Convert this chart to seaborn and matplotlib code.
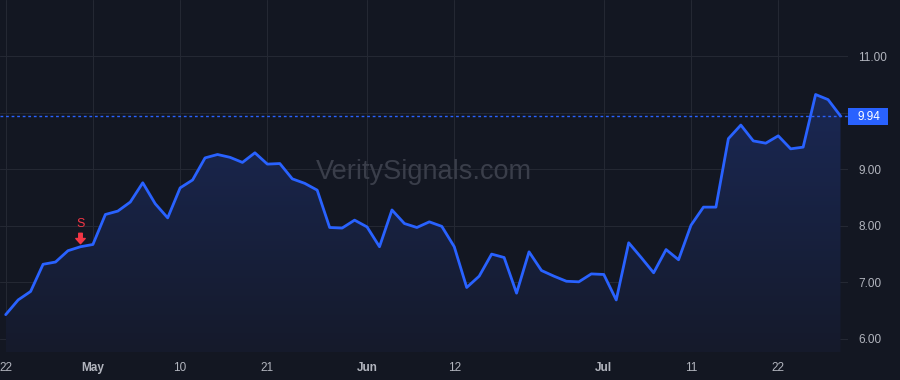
import matplotlib
matplotlib.use("Agg")
import matplotlib.pyplot as plt
import matplotlib.transforms as mtransforms
from matplotlib.patches import Polygon, Rectangle
from matplotlib.path import Path
from matplotlib.colors import LinearSegmentedColormap
import seaborn as sns
import numpy as np
import pandas as pd

# ---------------- data ----------------
prices = [6.43, 6.69, 6.84, 7.32, 7.36, 7.56, 7.63, 7.67, 8.20, 8.26, 8.42, 8.76,
          8.39, 8.14, 8.67, 8.81, 9.20, 9.26, 9.21, 9.12, 9.29, 9.09, 9.10, 8.83,
          8.75, 8.63, 7.97, 7.96, 8.10, 7.98, 7.63, 8.28, 8.04, 7.97, 8.07, 7.99,
          7.63, 6.91, 7.11, 7.50, 7.44, 6.81, 7.54, 7.21, 7.11, 7.02, 7.01, 7.15,
          7.14, 6.69, 7.70, 7.44, 7.17, 7.58, 7.40, 8.01, 8.33, 8.33, 9.54, 9.78,
          9.50, 9.46, 9.59, 9.36, 9.39, 10.32, 10.23, 9.94]
x_tick_positions = [0, 7, 14, 21, 29, 36, 48, 55, 62]
x_tick_labels = ["22", "May", "10", "21", "Jun", "12", "Jul", "11", "22"]
month_labels = ["May", "Jun", "Jul"]
y_ticks = [6, 7, 8, 9, 10, 11]
y_tick_labels = ["6.00", "7.00", "8.00", "9.00", "", "11.00"]
last_price = 9.94
signal_index = 6
signal_label = "S"
watermark = "VeritySignals.com"

# ---------------- style ----------------
BG = "#131722"
LINE = "#2962ff"
GRID = "#242833"
TXT = "#b2b5be"
RED = "#f23645"

sns.set_theme(style="dark")
plt.rcParams["font.family"] = ["Liberation Sans", "DejaVu Sans"]

fig = plt.figure(figsize=(9, 3.8), dpi=100, facecolor=BG)
ax = fig.add_axes([0, 28 / 380, 848 / 900, 352 / 380])
ax.set_facecolor(BG)

df = pd.DataFrame({"idx": np.arange(len(prices)), "price": prices})
sns.lineplot(data=df, x="idx", y="price", ax=ax, color=LINE, linewidth=2.0, zorder=4)

ymin, ymax = 5.77, 11.99
ax.set_xlim(-0.457, 67.6)
ax.set_ylim(ymin, ymax)

# gradient fill under line
verts = [(0, ymin)] + list(zip(df["idx"], df["price"])) + [(len(prices) - 1, ymin)]
poly = Polygon(verts, closed=True, facecolor="none", edgecolor="none")
ax.add_patch(poly)
cmap = LinearSegmentedColormap.from_list("g", ["#151a2b", "#1a2854"])
grad = np.linspace(0, 1, 256).reshape(-1, 1)
im = ax.imshow(grad, cmap=cmap, origin="lower", aspect="auto",
               extent=[0, len(prices) - 1, ymin, max(prices)], zorder=1)
im.set_clip_path(poly)
ax.set_xlim(-0.457, 67.6)
ax.set_ylim(ymin, ymax)

# last price dotted line
ax.axhline(last_price, color=LINE, linestyle=(0, (2, 2)), linewidth=1.0, zorder=3)

# grid and ticks
ax.set_xticks(x_tick_positions)
ax.set_xticklabels(x_tick_labels)
ax.yaxis.tick_right()
ax.set_yticks(y_ticks)
ax.set_yticklabels(y_tick_labels)
ax.grid(True, color=GRID, linewidth=0.8)
ax.tick_params(axis="both", length=0, colors=TXT, labelsize=8.5)
ax.tick_params(axis="y", pad=7.5)
ax.tick_params(axis="x", pad=7.5)
for lab in ax.get_xticklabels():
    if lab.get_text() in month_labels:
        lab.set_fontweight("bold")
ax.set_xlabel("")
ax.set_ylabel("")
for s in ax.spines.values():
    s.set_visible(False)

# watermark
ax.text(0.5, 0.511, watermark, transform=ax.transAxes, ha="center", va="center",
        fontsize=19.5, color="#3a3e4a", zorder=2)

# sell signal
sy = prices[signal_index]
arrow_path = Path([(-0.17, 0.5), (0.17, 0.5), (0.17, 0.0), (0.45, 0.0), (0.0, -0.5),
                   (-0.45, 0.0), (-0.17, 0.0), (-0.17, 0.5)],
                  [Path.MOVETO] + [Path.LINETO] * 6 + [Path.CLOSEPOLY])
tr_arrow = mtransforms.offset_copy(ax.transData, fig=fig, x=0, y=6.6, units="points")
ax.plot([signal_index], [sy], marker=arrow_path, markersize=7.5, color=RED,
        linestyle="none", transform=tr_arrow, zorder=5)
tr_s = mtransforms.offset_copy(ax.transData, fig=fig, x=0, y=16.3, units="points")
ax.text(signal_index, sy, signal_label, transform=tr_s, ha="center", va="center",
        color=RED, fontsize=9, zorder=5)

# last price label box
box_top = 108 / 380
fig.patches.append(Rectangle((848 / 900, 1 - 125 / 380), 40 / 900, 17 / 380,
                             transform=fig.transFigure, facecolor=LINE,
                             edgecolor="none", zorder=5))
fig.text(869 / 900, 1 - 116.5 / 380, f"{last_price:.2f}", ha="center", va="center",
         color="white", fontsize=8.5, zorder=6)

fig.savefig("out.png", dpi=100, facecolor=BG)
